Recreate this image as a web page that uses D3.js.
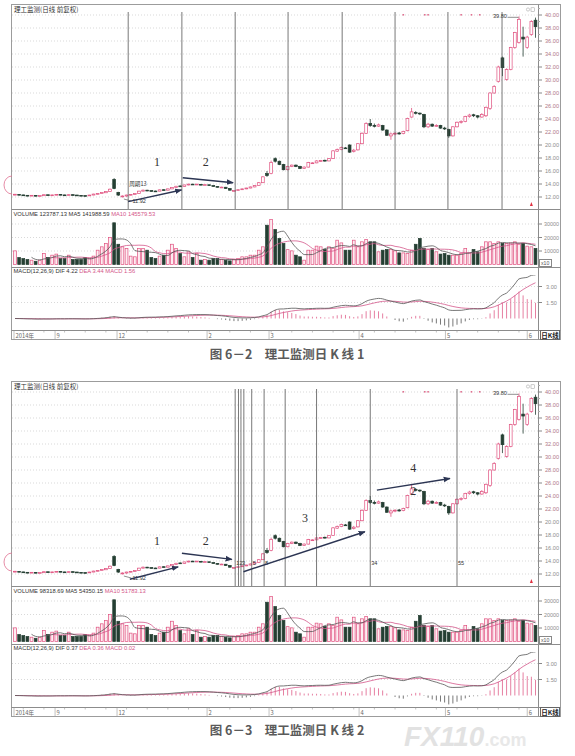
<!DOCTYPE html>
<html><head><meta charset="utf-8">
<script src="https://cdn.jsdelivr.net/npm/d3@7"></script>
<style>
body{margin:0;background:#fff;}
svg{display:block;font-family:"Liberation Sans","DejaVu Sans",sans-serif;}
</style>
</head><body>
<svg id="c" width="575" height="756"></svg>
<script>
// ---------- data ----------
const opens = [12.30,12.40,12.32,12.26,12.18,12.25,12.15,12.20,12.34,12.24,
12.30,12.40,12.32,12.26,12.36,12.30,12.25,12.22,12.18,12.30,
12.42,12.52,12.65,12.85,14.70,12.70,12.05,12.15,12.28,12.40,
12.55,12.90,13.05,12.98,12.92,12.90,13.12,13.05,13.25,13.45,
13.70,13.62,13.85,13.98,13.90,13.95,13.85,13.88,13.75,13.62,
13.48,13.50,13.30,12.95,13.00,13.12,13.25,13.38,13.55,13.75,
14.20,15.60,15.60,17.90,17.50,17.00,16.20,16.70,16.90,16.70,
16.40,16.60,17.20,17.25,17.50,17.65,17.55,17.90,19.05,19.30,
19.55,20.00,19.00,19.25,20.20,21.80,23.30,23.00,22.90,23.00,
22.30,21.40,21.70,21.85,21.75,22.20,24.30,25.00,24.90,24.70,
22.80,23.20,22.90,23.00,22.60,22.40,21.40,22.80,23.50,23.60,
24.40,24.65,24.50,24.30,24.50,25.60,28.00,29.80,33.40,30.10,
31.60,35.00,35.80,36.60,35.00,37.00,39.20];
const closes = [12.42,12.32,12.25,12.18,12.26,12.15,12.22,12.35,12.24,12.32,
12.40,12.32,12.26,12.36,12.30,12.24,12.20,12.18,12.30,12.45,
12.55,12.70,12.85,13.20,13.30,12.30,12.15,12.30,12.40,12.55,
12.90,13.05,12.95,12.90,12.88,13.10,13.05,13.25,13.45,13.65,
13.62,13.85,13.98,13.90,13.98,13.85,13.90,13.75,13.62,13.50,
13.52,13.30,13.05,13.00,13.12,13.25,13.38,13.55,13.75,14.20,
15.10,15.30,17.30,17.50,17.00,16.20,16.70,16.90,16.70,16.40,
16.60,17.30,17.25,17.55,17.60,17.55,17.90,19.10,19.30,19.60,
19.50,18.90,19.20,20.20,21.80,23.30,23.00,22.90,23.10,22.30,
21.50,21.70,21.80,21.70,22.10,24.10,25.10,24.90,24.80,22.80,
23.20,22.90,23.00,22.60,22.50,21.40,22.80,23.50,23.60,24.40,
24.60,24.50,24.30,24.70,25.80,28.00,29.00,32.00,31.90,31.60,
35.00,37.30,39.30,36.30,36.60,39.00,38.20];
const highs = [12.48,12.45,12.36,12.30,12.30,12.28,12.26,12.40,12.38,12.36,
12.45,12.44,12.35,12.40,12.40,12.34,12.30,12.26,12.34,12.50,
12.60,12.75,12.92,13.30,14.90,12.80,12.25,12.35,12.45,12.60,
12.95,13.15,13.10,13.02,12.98,13.15,13.18,13.30,13.50,13.72,
13.78,13.90,14.05,14.02,14.02,13.98,13.95,13.92,13.80,13.66,
13.58,13.55,13.35,13.05,13.18,13.30,13.42,13.60,13.80,14.30,
15.20,16.00,17.60,18.10,17.60,17.10,16.80,17.00,17.00,16.80,
16.70,17.40,17.35,17.65,17.70,17.75,18.00,19.20,19.45,19.75,
19.70,20.10,19.40,20.30,21.95,23.50,24.00,23.30,23.30,23.10,
22.40,21.90,22.00,22.00,22.20,24.20,25.70,25.20,25.00,24.80,
23.40,23.30,23.20,23.10,22.80,22.50,22.90,23.60,23.80,24.50,
24.80,24.80,24.60,24.90,25.90,28.10,29.20,32.20,33.60,31.80,
35.10,37.40,39.80,38.20,36.80,39.20,39.60];
const lows = [12.25,12.28,12.20,12.12,12.14,12.10,12.12,12.18,12.20,12.20,
12.28,12.28,12.22,12.24,12.26,12.20,12.16,12.14,12.16,12.28,
12.40,12.50,12.62,12.80,13.20,12.15,11.92,12.05,12.25,12.36,
12.50,12.85,12.90,12.85,12.82,12.88,13.00,13.02,13.20,13.40,
13.58,13.60,13.80,13.85,13.86,13.80,13.80,13.70,13.58,13.45,
13.42,13.25,13.00,12.85,12.96,13.08,13.20,13.35,13.50,13.70,
14.15,15.10,15.50,17.30,16.90,16.10,16.10,16.60,16.60,16.30,
16.35,16.55,17.10,17.20,17.40,17.45,17.50,17.85,18.95,19.20,
19.40,18.80,18.85,19.15,20.10,21.70,22.80,22.70,22.80,22.20,
21.40,20.80,21.50,21.60,21.65,22.10,24.20,24.70,24.60,22.60,
22.60,22.80,22.80,22.50,22.30,21.10,21.30,22.70,23.30,23.50,
24.20,24.30,24.10,24.20,24.30,25.40,27.90,29.60,30.60,29.90,
31.50,34.80,35.60,33.60,34.80,36.80,36.50];
const volumes = [10100,5200,4400,3700,3200,2400,3200,8100,5200,6900,
7700,4400,4400,6900,3700,3700,3700,5200,4400,6200,
10600,13100,15600,20000,30900,15000,13100,11900,6200,5700,
11900,11900,10600,5200,4400,6200,6900,10600,15000,11900,
8100,5700,9400,5200,8100,3200,3700,3200,4400,4400,
3700,3200,2700,3700,4400,5700,5700,6900,6900,10600,
13100,29100,33400,25900,19300,15600,11000,10100,6900,5700,
3200,10600,10600,13600,13100,11100,13100,11900,18000,16000,
10600,10600,18000,13100,16800,18500,16800,16800,9400,10600,
11100,11100,10100,8600,8600,8100,10600,15000,19300,11900,
11100,11900,9400,7700,8100,6900,6900,6900,8100,11900,
8600,11100,9400,13100,16800,16800,15600,16800,15600,15600,
16000,16800,15000,15600,13600,13100,11900];

const priceTicks = [12,14,16,18,20,22,24,26,28,30,32,34,36,38,40];
const volTicks = [10000,20000,30000];
const macdTicks = [1.5,3.0];
const dateLabels = ["2014年","9","12","2","3","4","5","6"];
const dateIdx = [0,9.7,24.7,46.5,61.5,83.3,104.2,124];
const infoMarkIdx = [94,99.2,100,108,110.5,112.5];

// top chart: cycle lines (period 13)
const cycleIdx = [27.4,40.4,53.3,66.1,79.2,92,104.8,117.9];
// bottom chart: Fibonacci time zones
const fibIdx = [53.3,54.1,54.7,55.4,57.3,60.3,65.4,73,86,107];
const fibLabels = ["1","2","3","","5","8","","","34","55"];

const topArrows = [[27.4,11.28,40.3,13.08],[40.6,14.97,52.8,14.2]];
const topNums = [["1",34.4,16.77],["2",46.2,16.77]];
const botArrows = [[27.8,11.2,39.5,13.1],[40.4,15.2,52.5,14.25],[55.3,12.35,84.7,18.5],[87.6,24.9,105.3,26.7]];
const botNums = [["1",34.4,16.46],["2",46.2,16.46],["3",70.2,20.0],["4",96.4,27.7],["2",96.4,24.15]];

const topVolText = ["VOLUME 123787.13","MA5 141988.59","MA10 145579.53"];
const botVolText = ["VOLUME 98318.69","MA5 54350.15","MA10 51783.13"];
const topMacdText = ["MACD(12,26,9)  DIF 4.22","DEA 3.44","MACD 1.56"];
const botMacdText = ["MACD(12,26,9)  DIF 0.37","DEA 0.36","MACD 0.02"];

// ---------- derived indicators ----------
const N = closes.length;
function ema(a,n){const k=2/(n+1);const o=[];a.forEach((v,i)=>o.push(i?o[i-1]+k*(v-o[i-1]):v));return o;}
const e12 = ema(closes,12), e26 = ema(closes,26);
const dif = e12.map((v,i)=>v-e26[i]);
const dea = ema(dif,9);
const hist = dif.map((v,i)=>2*(v-dea[i]));
function ma(a,n){return a.map((v,i)=> i<n-1?null:d3.mean(a.slice(i-n+1,i+1)));}
const ma5 = ma(volumes,5), ma10 = ma(volumes,10);

// ---------- drawing ----------
const UP="#e0517f", DN="#253f33", NAVY="#2c3553";
const svg = d3.select("#c");
const defs = svg.append("defs");
defs.append("marker").attr("id","ah").attr("viewBox","0 0 10 10").attr("refX",9).attr("refY",5)
  .attr("markerWidth",5).attr("markerHeight",5).attr("orient","auto")
  .append("path").attr("d","M0,1L10,5L0,9Z").attr("fill",NAVY);

const xs = d3.scaleLinear().domain([0,N-1]).range([15,535.5]);
const cw = 2.8;

// watermark (drawn first, beneath the chart)
const wm = svg.append("text").attr("x",404).attr("y",746).attr("font-family","Liberation Sans").attr("font-weight","bold");
wm.append("tspan").attr("font-size",28).attr("font-style","italic").attr("fill","#e2e2e2").text("FX110");
wm.append("tspan").attr("font-size",18).attr("fill","#e8e8e8").text(".com");

function drawChart(dy, cfg){
  const g = svg.append("g");
  const yP = d3.scaleLinear().domain([12,40]).range([197+dy,15+dy]);
  const yV = d3.scaleLinear().domain([0,30000]).range([264.5+dy,224+dy]);
  const yM = d3.scaleLinear().domain([0,3]).range([318.5+dy,286.5+dy]);
  const idx = d3.range(N);

  const cid = "clip"+dy;
  defs.append("clipPath").attr("id",cid+"m").append("rect").attr("x",12).attr("y",275+dy).attr("width",526).attr("height",55);
  defs.append("clipPath").attr("id",cid+"v").append("rect").attr("x",12).attr("y",218+dy).attr("width",526).attr("height",49);

  // frame
  g.append("rect").attr("x",11.5).attr("y",4.5+dy).attr("width",549).attr("height",335)
    .attr("fill","none").attr("stroke","#9c9c9c");
  [209,267,330].forEach(y=>g.append("line").attr("x1",11.5).attr("x2",560.5)
    .attr("y1",y+dy+.5).attr("y2",y+dy+.5).attr("stroke","#8c8c8c"));
  g.append("line").attr("x1",538.5).attr("x2",538.5).attr("y1",4.5+dy).attr("y2",339.5+dy).attr("stroke","#8c8c8c");

  // header
  g.append("text").attr("x",14).attr("y",11.5+dy).attr("font-size",6.5)
    .attr("font-family","Noto Sans CJK SC").attr("fill","#333").text("理工监测(日线 前复权)");

  // price grid & axis
  priceTicks.forEach(t=>{
    g.append("line").attr("x1",12).attr("x2",538).attr("y1",yP(t)).attr("y2",yP(t))
      .attr("stroke","#c9c9c9").attr("stroke-dasharray","1,2").attr("stroke-width",0.7);
    g.append("line").attr("x1",538).attr("x2",542).attr("y1",yP(t)).attr("y2",yP(t)).attr("stroke","#888");
    g.append("line").attr("x1",538).attr("x2",540).attr("y1",yP(t+1)).attr("y2",yP(t+1)).attr("stroke","#aaa");
    g.append("text").attr("x",545).attr("y",yP(t)+2).attr("font-size",5.6)
      .attr("fill", t>=22 ? "#b07888" : "#8d8d8d").text(t.toFixed(2));
  });

  // volume grid & axis
  volTicks.forEach(t=>{
    g.append("line").attr("x1",12).attr("x2",538).attr("y1",yV(t)).attr("y2",yV(t))
      .attr("stroke","#c9c9c9").attr("stroke-dasharray","1,2").attr("stroke-width",0.7);
    g.append("line").attr("x1",538).attr("x2",542).attr("y1",yV(t)).attr("y2",yV(t)).attr("stroke","#888");
    g.append("text").attr("x",544).attr("y",yV(t)+2).attr("font-size",5.4).attr("fill","#8d8d8d").text(t);
  });
  g.append("rect").attr("x",539.5).attr("y",259.5+dy).attr("width",12).attr("height",7).attr("fill","#fff").attr("stroke","#888");
  g.append("text").attr("x",541).attr("y",265+dy).attr("font-size",5.2).attr("fill","#555").text("x10");

  // macd grid & axis
  macdTicks.forEach(t=>{
    g.append("line").attr("x1",12).attr("x2",538).attr("y1",yM(t)).attr("y2",yM(t))
      .attr("stroke","#c9c9c9").attr("stroke-dasharray","1,2").attr("stroke-width",0.7);
    g.append("line").attr("x1",538).attr("x2",542).attr("y1",yM(t)).attr("y2",yM(t)).attr("stroke","#888");
    g.append("text").attr("x",546).attr("y",yM(t)+2).attr("font-size",5.6).attr("fill","#8d8d8d").text(t.toFixed(2));
  });

  // date axis
  idx.filter(i=>i%5===2).forEach(i=>g.append("line").attr("x1",xs(i)).attr("x2",xs(i))
    .attr("y1",330.5+dy).attr("y2",332.5+dy).attr("stroke","#999").attr("stroke-width",0.6));
  dateLabels.forEach((l,k)=>{
    const x = k===0 ? 14 : xs(dateIdx[k]);
    g.append("line").attr("x1",x).attr("x2",x).attr("y1",330.5+dy).attr("y2",339+dy).attr("stroke","#999").attr("stroke-width",0.6);
    g.append("text").attr("x",x+1.5).attr("y",337.5+dy).attr("font-size",5.8).attr("fill","#666")
      .attr("font-family","Noto Sans CJK SC").text(l);
  });
  g.append("rect").attr("x",540.5).attr("y",330.5+dy).attr("width",19).attr("height",9).attr("fill","#fff").attr("stroke","#666");
  g.append("text").attr("x",550).attr("y",337.8+dy).attr("font-size",6.5).attr("font-weight","bold")
    .attr("text-anchor","middle").attr("font-family","Noto Sans CJK SC").attr("fill","#222").text("日K线");

  // candles
  const cg = g.append("g");
  cg.selectAll("line.w").data(idx).join("line")
    .attr("x1",i=>xs(i)).attr("x2",i=>xs(i)).attr("y1",i=>yP(highs[i])).attr("y2",i=>yP(lows[i]))
    .attr("stroke",i=>closes[i]>=opens[i]?UP:DN).attr("stroke-width",0.8);
  cg.selectAll("rect").data(idx).join("rect")
    .attr("x",i=>xs(i)-cw/2).attr("width",cw)
    .attr("y",i=>yP(Math.max(opens[i],closes[i])))
    .attr("height",i=>Math.max(0.8,Math.abs(yP(opens[i])-yP(closes[i]))))
    .attr("fill",i=>closes[i]>=opens[i]?"#fff":DN)
    .attr("stroke",i=>closes[i]>=opens[i]?UP:DN).attr("stroke-width",0.7);

  // info markers (top) and small flag
  infoMarkIdx.forEach(i=>g.append("rect").attr("x",xs(i)-0.8).attr("y",14+dy).attr("width",1.6).attr("height",1.6).attr("fill","#e07090"));
  g.append("path").attr("d",`M${xs(125)-1.5},${206+dy}L${xs(125)},${202+dy}L${xs(125)+1.5},${206+dy}Z`).attr("fill","#e03040");
  g.append("circle").attr("cx",528).attr("cy",9.5+dy).attr("r",1.6).attr("fill","none").attr("stroke","#999").attr("stroke-width",0.5);
  g.append("rect").attr("x",531).attr("y",7.8+dy).attr("width",3.5).attr("height",3.5).attr("fill","none").attr("stroke","#999").attr("stroke-width",0.5);
  g.append("path").attr("d",`M12,${176+dy} A8,9 0 0 0 12,${194+dy}`).attr("fill","none").attr("stroke","#e07090").attr("stroke-width",0.8);

  // high label
  const hi = d3.maxIndex(highs);
  g.append("text").attr("x",xs(hi)-12).attr("y",yP(39.55)).attr("font-size",5.6).attr("text-anchor","end").attr("fill","#333").text("39.80");
  g.append("path").attr("d",`M${xs(hi)-11.5},${yP(39.8)+1}L${xs(hi)-1},${yP(39.8)+1}L${xs(hi)},${yP(39.8)+2}`)
    .attr("fill","none").attr("stroke","#444").attr("stroke-width",0.6);
  // low label
  const lo = d3.minIndex(lows);
  g.append("line").attr("x1",xs(lo)+1.5).attr("x2",xs(lo)+9).attr("y1",yP(lows[lo])+1.5).attr("y2",yP(lows[lo])+3.5).attr("stroke","#444").attr("stroke-width",0.6);
  g.append("text").attr("x",xs(lo)+10).attr("y",yP(lows[lo])+5.5).attr("font-size",5.6).attr("fill","#333").text(lows[lo].toFixed(2));

  // volume bars + MAs
  const vg = g.append("g").attr("clip-path",`url(#${cid}v)`);
  vg.selectAll("rect").data(idx).join("rect")
    .attr("x",i=>xs(i)-cw/2).attr("width",cw).attr("y",i=>yV(volumes[i])).attr("height",i=>yV(0)-yV(volumes[i]))
    .attr("fill",i=>closes[i]>=opens[i]?"#fdecf1":DN).attr("stroke",i=>closes[i]>=opens[i]?UP:DN).attr("stroke-width",0.7);
  const lv = d3.line().defined(d=>d[1]!==null).x(d=>xs(d[0])).y(d=>yV(d[1])).curve(d3.curveMonotoneX);
  vg.append("path").attr("d",lv(idx.map(i=>[i,ma10[i]]))).attr("fill","none").attr("stroke","#d4578a").attr("stroke-width",0.8);
  vg.append("path").attr("d",lv(idx.map(i=>[i,ma5[i]]))).attr("fill","none").attr("stroke","#555").attr("stroke-width",0.8);
  const vt = g.append("text").attr("x",13.5).attr("y",215.5+dy).attr("font-size",5.8);
  vt.append("tspan").attr("fill","#333").text(cfg.vol[0]+"  ");
  vt.append("tspan").attr("fill","#333").text(cfg.vol[1]+"  ");
  vt.append("tspan").attr("fill","#d4578a").text(cfg.vol[2]);

  // MACD
  const mg = g.append("g").attr("clip-path",`url(#${cid}m)`);
  mg.selectAll("line").data(idx).join("line")
    .attr("x1",i=>xs(i)).attr("x2",i=>xs(i)).attr("y1",yM(0)).attr("y2",i=>yM(hist[i]))
    .attr("stroke",i=>hist[i]>=0?"#e0608a":"#555").attr("stroke-width",0.8);
  const lm = d3.line().x((d,i)=>xs(i)).y(d=>yM(d)).curve(d3.curveMonotoneX);
  mg.append("path").attr("d",lm(dea)).attr("fill","none").attr("stroke","#d4578a").attr("stroke-width",0.8);
  mg.append("path").attr("d",lm(dif)).attr("fill","none").attr("stroke","#555").attr("stroke-width",0.8);
  const mt = g.append("text").attr("x",13.5).attr("y",273+dy).attr("font-size",5.8);
  mt.append("tspan").attr("fill","#333").text(cfg.macd[0]+"  ");
  mt.append("tspan").attr("fill","#d4578a").text(cfg.macd[1]+"  ");
  mt.append("tspan").attr("fill","#d4578a").text(cfg.macd[2]);

  // vertical lines
  cfg.vlines.forEach((v,k)=>{
    g.append("line").attr("x1",xs(v)).attr("x2",xs(v)).attr("y1",12+dy).attr("y2",209+dy)
      .attr("stroke","#555").attr("stroke-width",0.8);
    if(cfg.vlabels && cfg.vlabels[k])
      g.append("text").attr("x",xs(v)+1).attr("y",yP(13.45)).attr("font-size",5.6).attr("fill","#333").text(cfg.vlabels[k]);
  });
  if(cfg.cycleText)
    g.append("text").attr("x",xs(cfg.vlines[0])+1).attr("y",yP(13.7)).attr("font-size",5.6)
      .attr("font-family","Noto Sans CJK SC").attr("fill","#333").text(cfg.cycleText);

  // arrows and numbers
  cfg.arrows.forEach(a=>g.append("line").attr("x1",xs(a[0])).attr("y1",yP(a[1])).attr("x2",xs(a[2])).attr("y2",yP(a[3]))
    .attr("stroke",NAVY).attr("stroke-width",1.4).attr("marker-end","url(#ah)"));
  cfg.nums.forEach(n=>g.append("text").attr("x",xs(n[1])).attr("y",yP(n[2])).attr("text-anchor","middle")
    .attr("font-family","Liberation Serif, serif").attr("font-size",12).attr("fill","#333").text(n[0]));
}

drawChart(0,{vol:topVolText,macd:topMacdText,vlines:cycleIdx,cycleText:"周期13",arrows:topArrows,nums:topNums});
drawChart(377,{vol:botVolText,macd:botMacdText,vlines:fibIdx,vlabels:fibLabels,arrows:botArrows,nums:botNums});

// captions
[["图 6－2　理工监测日 K 线 1",359],["图 6－3　理工监测日 K 线 2",735]].forEach(c=>
  svg.append("text").attr("x",287).attr("y",c[1]).attr("text-anchor","middle")
    .attr("font-family","Noto Sans CJK SC").attr("font-size",12.5).attr("font-weight","bold")
    .attr("fill","#5a5a5a").text(c[0]));
</script>
</body></html>
